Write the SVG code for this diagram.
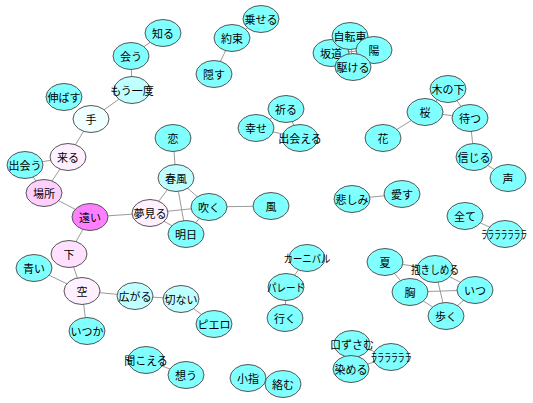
<svg xmlns="http://www.w3.org/2000/svg" width="533" height="403" viewBox="0 0 533 403">
<style>
.e line{stroke:#9a9a9a;stroke-width:1}
ellipse{stroke:#555;stroke-width:1;rx:18px;ry:13.5px}
.c ellipse{fill:#80ffff}
.lc ellipse{fill:#c0ffff}
.w ellipse{fill:#f0ffff}
.p0 ellipse{fill:#fff0ff}
.p1 ellipse{fill:#ffe0ff}
.p2 ellipse{fill:#ffd0ff}
.m ellipse{fill:#ff80ff}
text{font-family:"Noto Sans CJK JP","Noto Sans",sans-serif;font-size:11px;fill:#000;text-anchor:middle;dominant-baseline:central}
</style>
<rect width="533" height="403" fill="#fff"/>
<g id="edges" class="e">
<line x1="163" y1="33" x2="131" y2="56"/>
<line x1="131" y1="56" x2="132" y2="90"/>
<line x1="132" y1="90" x2="91" y2="119"/>
<line x1="91" y1="119" x2="68" y2="157"/>
<line x1="68" y1="157" x2="25" y2="165"/>
<line x1="68" y1="157" x2="44" y2="193"/>
<line x1="25" y1="165" x2="44" y2="193"/>
<line x1="44" y1="193" x2="90" y2="217"/>
<line x1="90" y1="217" x2="150" y2="213"/>
<line x1="90" y1="217" x2="69" y2="254"/>
<line x1="69" y1="254" x2="82" y2="291"/>
<line x1="34" y1="268" x2="82" y2="291"/>
<line x1="82" y1="291" x2="135" y2="296"/>
<line x1="82" y1="291" x2="87" y2="331"/>
<line x1="135" y1="296" x2="181" y2="299"/>
<line x1="181" y1="299" x2="214" y2="324"/>
<line x1="146" y1="360" x2="186" y2="375"/>
<line x1="173" y1="138" x2="176" y2="178"/>
<line x1="176" y1="178" x2="150" y2="213"/>
<line x1="176" y1="178" x2="209" y2="207"/>
<line x1="176" y1="178" x2="186" y2="234"/>
<line x1="150" y1="213" x2="209" y2="207"/>
<line x1="150" y1="213" x2="186" y2="234"/>
<line x1="209" y1="207" x2="186" y2="234"/>
<line x1="209" y1="207" x2="271" y2="206"/>
<line x1="261" y1="19" x2="232" y2="38"/>
<line x1="232" y1="38" x2="214" y2="74"/>
<line x1="331" y1="53" x2="374" y2="50"/>
<line x1="331" y1="53" x2="350" y2="36"/>
<line x1="350" y1="36" x2="353" y2="67"/>
<line x1="331" y1="53" x2="353" y2="67"/>
<line x1="374" y1="50" x2="353" y2="67"/>
<line x1="286" y1="109" x2="256" y2="128"/>
<line x1="286" y1="109" x2="300" y2="138"/>
<line x1="256" y1="128" x2="300" y2="138"/>
<line x1="448" y1="89" x2="425" y2="112"/>
<line x1="448" y1="89" x2="470" y2="118"/>
<line x1="425" y1="112" x2="470" y2="118"/>
<line x1="425" y1="112" x2="383" y2="138"/>
<line x1="470" y1="118" x2="474" y2="157"/>
<line x1="474" y1="157" x2="508" y2="178"/>
<line x1="352" y1="199" x2="402" y2="194"/>
<line x1="465" y1="216" x2="505" y2="234"/>
<line x1="385" y1="262" x2="435" y2="269"/>
<line x1="385" y1="262" x2="410" y2="292"/>
<line x1="410" y1="292" x2="475" y2="290"/>
<line x1="410" y1="292" x2="446" y2="316"/>
<line x1="435" y1="269" x2="475" y2="290"/>
<line x1="435" y1="269" x2="446" y2="316"/>
<line x1="475" y1="290" x2="446" y2="316"/>
<line x1="307" y1="258" x2="286" y2="287"/>
<line x1="286" y1="287" x2="285" y2="318"/>
<line x1="352" y1="344" x2="351" y2="369"/>
<line x1="352" y1="344" x2="391" y2="357"/>
<line x1="351" y1="369" x2="391" y2="357"/>
<line x1="248" y1="378" x2="283" y2="384"/>
</g>
<g id="n-shiru" class="c"><ellipse cx="163" cy="33"/><text x="163" y="33">知る</text></g>
<g id="n-au" class="c"><ellipse cx="131" cy="56"/><text x="131" y="56">会う</text></g>
<g id="n-mouichido" class="lc"><ellipse cx="132" cy="90"/><text x="132" y="90">もう一度</text></g>
<g id="n-nobasu" class="c"><ellipse cx="64" cy="97"/><text x="64" y="97">伸ばす</text></g>
<g id="n-te" class="w"><ellipse cx="91" cy="119"/><text x="91" y="119">手</text></g>
<g id="n-kuru" class="p0"><ellipse cx="68" cy="157"/><text x="68" y="157">来る</text></g>
<g id="n-deau" class="c"><ellipse cx="25" cy="165"/><text x="25" y="165">出会う</text></g>
<g id="n-basho" class="p2"><ellipse cx="44" cy="193"/><text x="44" y="193">場所</text></g>
<g id="n-tooi" class="m"><ellipse cx="90" cy="217"/><text x="90" y="217">遠い</text></g>
<g id="n-yumemiru" class="p0"><ellipse cx="150" cy="213"/><text x="150" y="213">夢見る</text></g>
<g id="n-shita" class="p1"><ellipse cx="69" cy="254"/><text x="69" y="254">下</text></g>
<g id="n-aoi" class="c"><ellipse cx="34" cy="268"/><text x="34" y="268">青い</text></g>
<g id="n-sora" class="p0"><ellipse cx="82" cy="291"/><text x="82" y="291">空</text></g>
<g id="n-hirogaru" class="lc"><ellipse cx="135" cy="296"/><text x="135" y="296">広がる</text></g>
<g id="n-setsunai" class="lc"><ellipse cx="181" cy="299"/><text x="181" y="299">切ない</text></g>
<g id="n-piero" class="c"><ellipse cx="214" cy="324"/><text x="214" y="324">ピエロ</text></g>
<g id="n-itsuka" class="c"><ellipse cx="87" cy="331"/><text x="87" y="331">いつか</text></g>
<g id="n-kikoeru" class="c"><ellipse cx="146" cy="360"/><text x="146" y="360">聞こえる</text></g>
<g id="n-omou" class="c"><ellipse cx="186" cy="375"/><text x="186" y="375">想う</text></g>
<g id="n-koi" class="c"><ellipse cx="173" cy="138"/><text x="173" y="138">恋</text></g>
<g id="n-harukaze" class="lc"><ellipse cx="176" cy="178"/><text x="176" y="178">春風</text></g>
<g id="n-fuku" class="c"><ellipse cx="209" cy="207"/><text x="209" y="207">吹く</text></g>
<g id="n-ashita" class="c"><ellipse cx="186" cy="234"/><text x="186" y="234">明日</text></g>
<g id="n-kaze" class="c"><ellipse cx="271" cy="206"/><text x="271" y="206">風</text></g>
<g id="n-noseru" class="c"><ellipse cx="261" cy="19"/><text x="261" y="19">乗せる</text></g>
<g id="n-yakusoku" class="c"><ellipse cx="232" cy="38"/><text x="232" y="38">約束</text></g>
<g id="n-kakusu" class="c"><ellipse cx="214" cy="74"/><text x="214" y="74">隠す</text></g>
<g id="n-sakamichi" class="c"><ellipse cx="331" cy="53"/><text x="331" y="53">坂道</text></g>
<g id="n-jitensha" class="c"><ellipse cx="350" cy="36"/><text x="350" y="36">自転車</text></g>
<g id="n-hi" class="c"><ellipse cx="374" cy="50"/><text x="374" y="50">陽</text></g>
<g id="n-kakeru" class="c"><ellipse cx="353" cy="67"/><text x="353" y="67">駆ける</text></g>
<g id="n-inoru" class="c"><ellipse cx="286" cy="109"/><text x="286" y="109">祈る</text></g>
<g id="n-shiawase" class="c"><ellipse cx="256" cy="128"/><text x="256" y="128">幸せ</text></g>
<g id="n-deaeru" class="c"><ellipse cx="300" cy="138"/><text x="300" y="138">出会える</text></g>
<g id="n-kinoshita" class="c"><ellipse cx="448" cy="89"/><text x="448" y="89">木の下</text></g>
<g id="n-sakura" class="c"><ellipse cx="425" cy="112"/><text x="425" y="112">桜</text></g>
<g id="n-matsu" class="c"><ellipse cx="470" cy="118"/><text x="470" y="118">待つ</text></g>
<g id="n-hana" class="c"><ellipse cx="383" cy="138"/><text x="383" y="138">花</text></g>
<g id="n-shinjiru" class="c"><ellipse cx="474" cy="157"/><text x="474" y="157">信じる</text></g>
<g id="n-koe" class="c"><ellipse cx="508" cy="178"/><text x="508" y="178">声</text></g>
<g id="n-kanashimi" class="c"><ellipse cx="352" cy="199"/><text x="352" y="199">悲しみ</text></g>
<g id="n-aisu" class="c"><ellipse cx="402" cy="194"/><text x="402" y="194">愛す</text></g>
<g id="n-subete" class="c"><ellipse cx="465" cy="216"/><text x="465" y="216">全て</text></g>
<g id="n-lalala7" class="c"><ellipse cx="505" cy="234"/><text x="504" y="234" textLength="46" lengthAdjust="spacingAndGlyphs">ラララララララ</text></g>
<g id="n-natsu" class="c"><ellipse cx="385" cy="262"/><text x="385" y="262">夏</text></g>
<g id="n-dakishimeru" class="c"><ellipse cx="435" cy="269"/><text x="435" y="269" textLength="48" lengthAdjust="spacingAndGlyphs">抱きしめる</text></g>
<g id="n-mune" class="c"><ellipse cx="410" cy="292"/><text x="410" y="292">胸</text></g>
<g id="n-itsu" class="c"><ellipse cx="475" cy="290"/><text x="475" y="290">いつ</text></g>
<g id="n-aruku" class="c"><ellipse cx="446" cy="316"/><text x="446" y="316">歩く</text></g>
<g id="n-carnival" class="c"><ellipse cx="307" cy="258"/><text x="307" y="258" textLength="47" lengthAdjust="spacingAndGlyphs">カーニバル</text></g>
<g id="n-parade" class="c"><ellipse cx="286" cy="287"/><text x="286" y="287" textLength="38" lengthAdjust="spacingAndGlyphs">パレード</text></g>
<g id="n-iku" class="c"><ellipse cx="285" cy="318"/><text x="285" y="318">行く</text></g>
<g id="n-kuchizusamu" class="c"><ellipse cx="352" cy="344"/><text x="352" y="344">口ずさむ</text></g>
<g id="n-someru" class="c"><ellipse cx="351" cy="369"/><text x="351" y="369">染める</text></g>
<g id="n-lalala6" class="c"><ellipse cx="391" cy="357"/><text x="391" y="357" textLength="41" lengthAdjust="spacingAndGlyphs">ララララララ</text></g>
<g id="n-koyubi" class="c"><ellipse cx="248" cy="378"/><text x="248" y="378">小指</text></g>
<g id="n-karamu" class="c"><ellipse cx="283" cy="384"/><text x="283" y="384">絡む</text></g>
</svg>
